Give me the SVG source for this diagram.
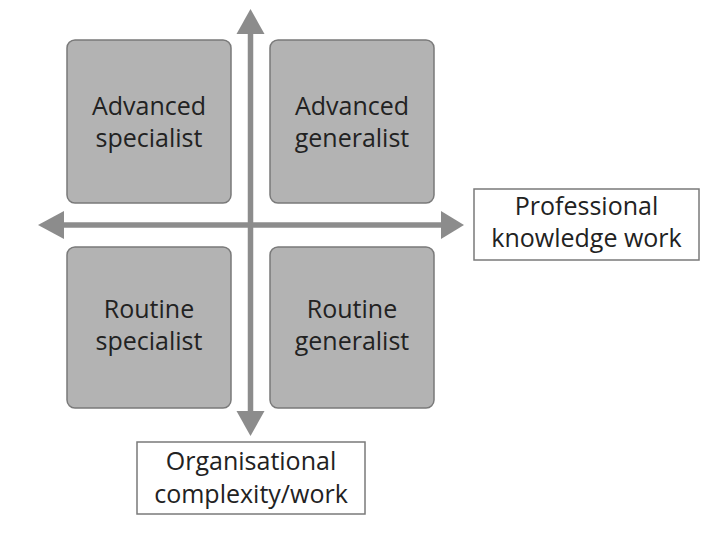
<svg xmlns="http://www.w3.org/2000/svg" width="716" height="542" viewBox="0 0 716 542">
<style>
.box{fill:#b3b3b3;stroke:#7a7a7a;stroke-width:1.5}
.lbl{fill:#ffffff;stroke:#7a7a7a;stroke-width:1.5}
.t{font-family:"Open Sans","Noto Sans","DejaVu Sans",sans-serif;font-size:25px;fill:#222222;text-anchor:middle}
.ax{stroke:#8c8c8c;stroke-width:5.5;fill:none}
.hd{fill:#8c8c8c}
</style>
<rect width="716" height="542" fill="#ffffff"/>
<g id="connectors">
<line class="ax" x1="250.5" y1="30" x2="250.5" y2="415"/>
<line class="ax" x1="61" y1="225" x2="445" y2="225"/>
<polygon class="hd" points="250.5,9 264.5,34 236.5,34"/>
<polygon class="hd" points="250.5,436 264.5,411 236.5,411"/>
<polygon class="hd" points="38,225 64,211 64,239"/>
<polygon class="hd" points="464,225 441,211 441,239"/>
</g>
<g id="advanced-specialist">
<rect class="box" x="67" y="40" width="164" height="163" rx="8"/>
<text class="t" x="149" y="115">Advanced</text>
<text class="t" x="149" y="147">specialist</text>
</g>
<g id="advanced-generalist">
<rect class="box" x="270" y="40" width="164" height="163" rx="8"/>
<text class="t" x="352" y="115">Advanced</text>
<text class="t" x="352" y="147">generalist</text>
</g>
<g id="routine-specialist">
<rect class="box" x="67" y="247" width="164" height="161" rx="8"/>
<text class="t" x="149" y="318">Routine</text>
<text class="t" x="149" y="350">specialist</text>
</g>
<g id="routine-generalist">
<rect class="box" x="270" y="247" width="164" height="161" rx="8"/>
<text class="t" x="352" y="318">Routine</text>
<text class="t" x="352" y="350">generalist</text>
</g>
<g id="professional-knowledge-work">
<rect class="lbl" x="474" y="189" width="225" height="71"/>
<text class="t" x="586.5" y="215">Professional</text>
<text class="t" x="586.5" y="247">knowledge work</text>
</g>
<g id="organisational-complexity">
<rect class="lbl" x="137" y="442" width="228" height="72"/>
<text class="t" x="251" y="470">Organisational</text>
<text class="t" x="251" y="503">complexity/work</text>
</g>
</svg>
